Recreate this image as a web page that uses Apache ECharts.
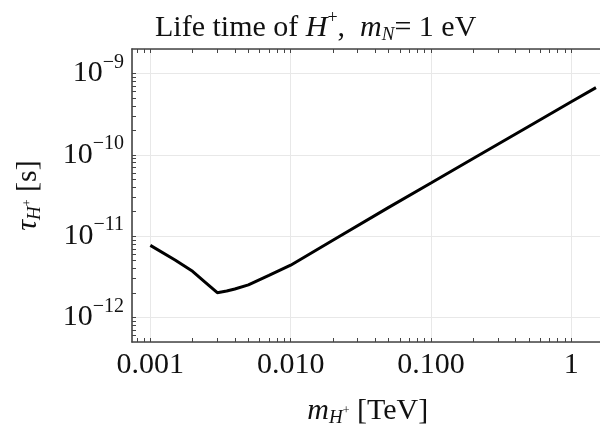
<!DOCTYPE html>
<html>
<head>
<meta charset="utf-8">
<script src="https://cdn.jsdelivr.net/npm/echarts@6/dist/echarts.min.js"></script>
<style>
html,body{margin:0;padding:0;background:#fff;}
#chart{width:600px;height:432px;}
</style>
</head>
<body>
<div id="chart"></div>
<script>
// ---- data ----
const massTeV = [0.001, 0.0015, 0.002, 0.0025, 0.003, 0.0035, 0.004, 0.005, 0.007, 0.01, 0.02, 0.05, 0.1, 0.2, 0.5, 1, 1.5];
const lifetimeS = [7.7e-12, 5.1e-12, 3.7e-12, 2.65e-12, 2.02e-12, 2.12e-12, 2.24e-12, 2.52e-12, 3.3e-12, 4.4e-12, 8.9e-12, 2.26e-11, 4.5e-11, 9.0e-11, 2.25e-10, 4.5e-10, 6.7e-10];
const xTickValues = [0.001, 0.01, 0.1, 1];
const xTickLabels = ['0.001', '0.010', '0.100', '1'];
const yTickValues = [1e-12, 1e-11, 1e-10, 1e-9];
const yTickExponents = ['\u221212', '\u221211', '\u221210', '\u22129'];

const xMin = 0.00074, xMax = 2;
const yMin = 5e-13, yMax = 2e-9;

function minorValues(lo, hi) {
  const out = [];
  for (let d = -14; d <= 2; d++) {
    for (let k = 1; k <= 9; k++) {
      const v = k * Math.pow(10, d);
      if (v >= lo && v <= hi) out.push(v);
    }
  }
  return out;
}
const xTicksAll = minorValues(xMin, xMax);
const yTicksAll = minorValues(yMin, yMax);

function matchIndex(arr, v) {
  for (let i = 0; i < arr.length; i++) {
    if (Math.abs(Math.log10(arr[i]) - Math.log10(v)) < 1e-6) return i;
  }
  return -1;
}

const SERIF = '"Liberation Serif", "DejaVu Serif", serif';
const TXT = '#111';
const FRAME = '#444';
const GRIDC = '#e8e8e8';

const chart = echarts.init(document.getElementById('chart'), null, {renderer: 'canvas'});
const option = {
  backgroundColor: '#fff',
  animation: false,
  title: {
    left: 150, top: 4,
    text: '{a|Life time of }{i|H}{sup|+}{a|,  }{i|m}{sub|N}{a|= 1 eV}',
    textStyle: {
      fontFamily: SERIF, fontSize: 30, color: TXT, fontWeight: 'normal',
      rich: {
        a: {fontFamily: SERIF, fontSize: 30, color: TXT},
        i: {fontFamily: SERIF, fontSize: 30, color: TXT, fontStyle: 'italic'},
        sup: {fontFamily: SERIF, fontSize: 18, color: TXT, padding: [0, 0, 20, 0]},
        sub: {fontFamily: SERIF, fontSize: 19, color: TXT, fontStyle: 'italic', padding: [14, 0, 0, 0]}
      }
    }
  },
  grid: {left: 132, top: 49, width: 481.5, height: 293, containLabel: false, outerBoundsMode: 'none'},
  xAxis: [{
    type: 'log', logBase: 10, min: xMin, max: xMax, position: 'bottom',
    name: '{i|m}{sub|H}{ssup|+}{a| [TeV]}',
    nameLocation: 'middle', nameGap: 54,
    nameTextStyle: {
      fontFamily: SERIF, fontSize: 30, color: TXT, padding: [0, 10, 0, 0],
      rich: {
        a: {fontFamily: SERIF, fontSize: 30, color: TXT},
        i: {fontFamily: SERIF, fontSize: 30, color: TXT, fontStyle: 'italic'},
        sub: {fontFamily: SERIF, fontSize: 19, color: TXT, fontStyle: 'italic', padding: [12, 0, 0, 0]},
        ssup: {fontFamily: SERIF, fontSize: 12, color: TXT, padding: [0, 0, 2, 0]}
      }
    },
    axisLine: {show: true, lineStyle: {color: FRAME, width: 1.6}},
    axisTick: {show: true, inside: true, length: 4, customValues: xTicksAll, lineStyle: {color: FRAME, width: 1}},
    axisLabel: {
      show: true, margin: 8, fontFamily: SERIF, fontSize: 30, color: TXT,
      showMinLabel: false, showMaxLabel: false,
      formatter: function (v) { const i = matchIndex(xTickValues, v); return i >= 0 ? xTickLabels[i] : ''; }
    },
    splitLine: {show: false},
    minorTick: {show: false},
    z: 3
  }, {
    type: 'log', logBase: 10, min: xMin, max: xMax, position: 'top',
    axisLine: {show: true, lineStyle: {color: FRAME, width: 1.6}},
    axisTick: {show: true, inside: true, length: 4, customValues: xTicksAll, lineStyle: {color: FRAME, width: 1}},
    axisLabel: {show: false},
    splitLine: {show: false},
    z: 3
  }, {
    // hidden axis used only for the decade grid lines
    type: 'log', logBase: 10, min: xMin, max: xMax, position: 'bottom',
    axisLine: {show: false}, axisTick: {show: false}, axisLabel: {show: false},
    splitLine: {show: true, lineStyle: {color: GRIDC, width: 1}},
    z: 0
  }],
  yAxis: [{
    type: 'log', logBase: 10, min: yMin, max: yMax, position: 'left',
    name: '{i|\u03c4}{sub|H}{ssup|+}{a| [s]}',
    nameLocation: 'middle', nameGap: 88, nameRotate: 90,
    nameTextStyle: {
      fontFamily: SERIF, fontSize: 30, color: TXT,
      rich: {
        a: {fontFamily: SERIF, fontSize: 30, color: TXT},
        i: {fontFamily: SERIF, fontSize: 30, color: TXT, fontStyle: 'italic'},
        sub: {fontFamily: SERIF, fontSize: 19, color: TXT, fontStyle: 'italic', padding: [12, 0, 0, 0]},
        ssup: {fontFamily: SERIF, fontSize: 12, color: TXT, padding: [0, 0, 2, 0]}
      }
    },
    axisLine: {show: true, lineStyle: {color: FRAME, width: 1.6}},
    axisTick: {show: true, inside: true, length: 4, customValues: yTicksAll, lineStyle: {color: FRAME, width: 1}},
    axisLabel: {
      show: true, margin: 8, color: TXT,
      showMinLabel: false, showMaxLabel: false,
      formatter: function (v) { const i = matchIndex(yTickValues, v); return i >= 0 ? '{b|10}{s|' + yTickExponents[i] + '}' : ''; },
      rich: {
        b: {fontFamily: SERIF, fontSize: 30, color: TXT},
        s: {fontFamily: SERIF, fontSize: 20, color: TXT, padding: [0, 0, 22, 0]}
      }
    },
    splitLine: {show: false},
    minorTick: {show: false},
    z: 3
  }, {
    // hidden axis used only for the decade grid lines
    type: 'log', logBase: 10, min: yMin, max: yMax, position: 'right',
    axisLine: {show: false}, axisTick: {show: false}, axisLabel: {show: false},
    splitLine: {show: true, lineStyle: {color: GRIDC, width: 1}},
    z: 0
  }],
  series: [{
    type: 'line', xAxisIndex: 0, yAxisIndex: 0, z: 5,
    data: massTeV.map((m, i) => [m, lifetimeS[i]]),
    showSymbol: false, smooth: false,
    lineStyle: {color: '#000', width: 3},
    itemStyle: {color: '#000'}
  }]
};
chart.setOption(option);
</script>
</body>
</html>
